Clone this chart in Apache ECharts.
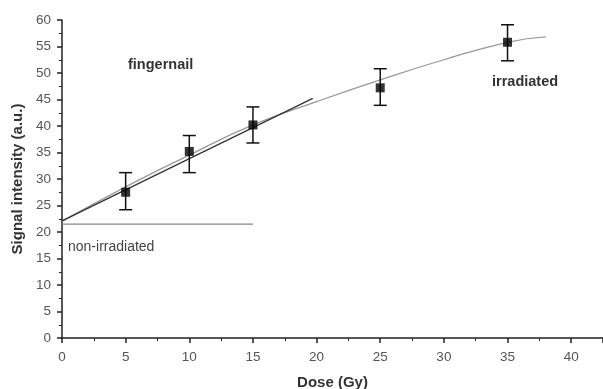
<!DOCTYPE html>
<html>
<head>
<meta charset="utf-8">
<script src="https://cdn.jsdelivr.net/npm/echarts@6/dist/echarts.min.js"></script>
<style>
  html, body { margin: 0; padding: 0; background: #fff; }
  #chart { width: 603px; height: 389px; }
</style>
</head>
<body>
<div id="chart"></div>
<script>
// measured points (dose, signal) with error bar ends
const doses = [5, 10, 15, 25, 35];
const signal = [27.5, 35.2, 40.2, 47.2, 55.8];
const errLow = [24.2, 31.2, 36.8, 43.9, 52.3];
const errHigh = [31.2, 38.2, 43.6, 50.8, 59.1];

// linear fit over the low-dose range
const linearFit = [[0, 22.1], [19.7, 45.2]];

// saturating fit
const curveX = [0, 5, 10, 15, 20, 25, 30, 35, 38];
const curveY = [22.0, 28.5, 34.5, 40.2, 44.6, 48.7, 52.5, 55.8, 56.8];

// non-irradiated level
const baseline = [[0, 21.5], [15, 21.5]];

const chart = echarts.init(document.getElementById("chart"));

const labelFont = "Liberation Sans, Arial, sans-serif";

const axisCommon = {
    axisLine: { show: true, onZero: false, lineStyle: { color: "#222", width: 1.5 } },
    axisTick: { show: true, inside: false, length: 5, lineStyle: { color: "#222", width: 1.5 } },
    minorTick: { show: true, splitNumber: 2, length: 3, lineStyle: { color: "#222", width: 1 } },
    splitLine: { show: false },
    axisLabel: { color: "#555", fontSize: 13.5, fontFamily: labelFont },
    nameTextStyle: { color: "#333", fontSize: 15, fontWeight: "bold", fontFamily: labelFont },
};

chart.setOption({
    animation: false,
    grid: { left: 62, right: 0, top: 20, bottom: 51, outerBoundsMode: "none" },
    xAxis: {
        ...axisCommon,
        type: "value",
        min: 0,
        max: 42.5,
        interval: 5,
        name: "Dose (Gy)",
        nameLocation: "middle",
        nameGap: 37,
        axisLabel: { ...axisCommon.axisLabel, margin: 12, showMaxLabel: false },
    },
    yAxis: {
        ...axisCommon,
        type: "value",
        min: 0,
        max: 60,
        interval: 5,
        name: "Signal intensity (a.u.)",
        nameLocation: "middle",
        nameGap: 36,
        axisLabel: { ...axisCommon.axisLabel, margin: 11 },
    },
    series: [
        {
            type: "line",
            data: curveX.map((x, i) => [x, curveY[i]]),
            smooth: true,
            symbol: "none",
            lineStyle: { color: "#999", width: 1.3 },
            z: 1,
        },
        {
            type: "line",
            data: linearFit,
            symbol: "none",
            lineStyle: { color: "#333", width: 1.3 },
            z: 2,
        },
        {
            type: "line",
            data: baseline,
            symbol: "none",
            lineStyle: { color: "#888", width: 1.2 },
            z: 1,
        },
        {
            type: "custom",
            data: doses.map((x, i) => [x, errLow[i], errHigh[i]]),
            renderItem: function (params, api) {
                const lo = api.coord([api.value(0), api.value(1)]);
                const hi = api.coord([api.value(0), api.value(2)]);
                const cap = 6.5;
                const style = { stroke: "#111", lineWidth: 1.5 };
                return {
                    type: "group",
                    children: [
                        { type: "line", shape: { x1: lo[0], y1: lo[1], x2: hi[0], y2: hi[1] }, style },
                        { type: "line", shape: { x1: lo[0] - cap, y1: lo[1], x2: lo[0] + cap, y2: lo[1] }, style },
                        { type: "line", shape: { x1: hi[0] - cap, y1: hi[1], x2: hi[0] + cap, y2: hi[1] }, style },
                    ],
                };
            },
            z: 3,
        },
        {
            type: "scatter",
            data: doses.map((x, i) => [x, signal[i]]),
            symbol: "rect",
            symbolSize: 9,
            itemStyle: { color: "#000" },
            z: 4,
        },
    ],
    graphic: [
        { type: "text", left: 128, top: 57, style: { text: "fingernail", fill: "#333", font: "bold 14.5px " + labelFont } },
        { type: "text", left: 492, top: 74, style: { text: "irradiated", fill: "#333", font: "bold 14.5px " + labelFont } },
        { type: "text", left: 68, top: 240, style: { text: "non-irradiated", fill: "#444", font: "14px " + labelFont } },
    ],
});
</script>
</body>
</html>
